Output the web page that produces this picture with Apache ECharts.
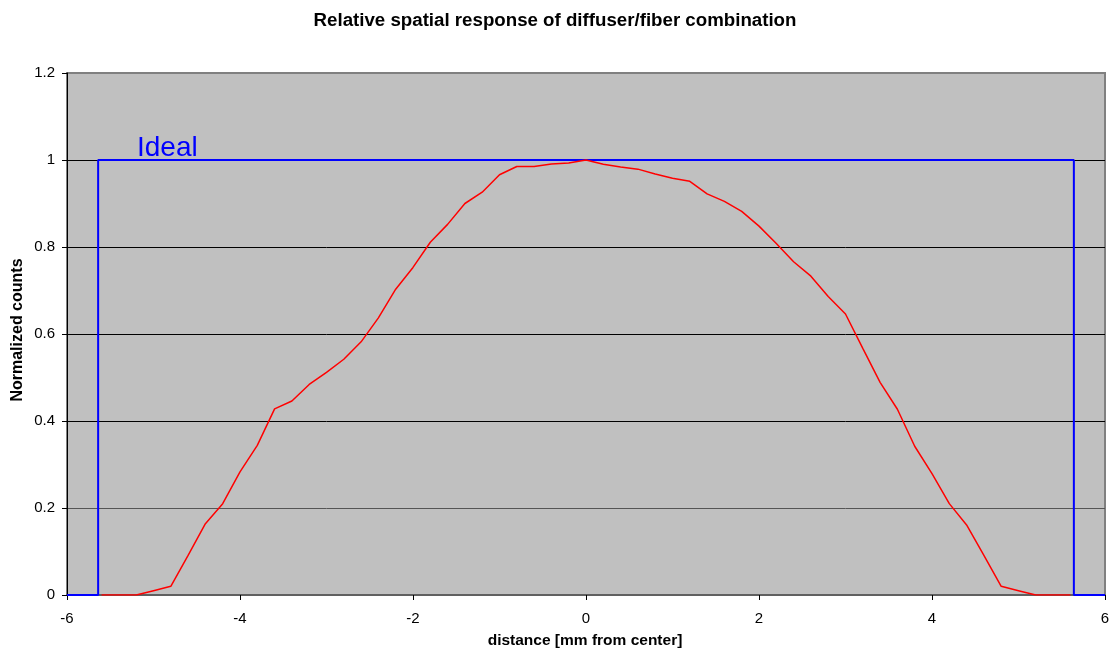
<!DOCTYPE html>
<html>
<head>
<meta charset="utf-8">
<script src="https://cdn.jsdelivr.net/npm/echarts@6/dist/echarts.min.js"></script>
<style>
html,body{margin:0;padding:0;background:#fff;}
#chart{width:1110px;height:654px;}
</style>
</head>
<body>
<div id="chart"></div>
<script>
var titleText = 'Relative spatial response of diffuser/fiber combination';
var xAxisName = 'distance [mm from center]';
var yAxisName = 'Normalized counts';
var idealLabel = 'Ideal';

var distance = [-5.6,-5.4,-5.2,-5.0,-4.8,-4.6,-4.4,-4.2,-4.0,-3.8,-3.6,-3.4,-3.2,-3.0,-2.8,-2.6,-2.4,-2.2,-2.0,-1.8,-1.6,-1.4,-1.2,-1.0,-0.8,-0.6,-0.4,-0.2,0,
  0.2,0.4,0.6,0.8,1.0,1.2,1.4,1.6,1.8,2.0,2.2,2.4,2.6,2.8,3.0,3.2,3.4,3.6,3.8,4.0,4.2,4.4,4.6,4.8,5.0,5.2,5.4,5.6];
var counts = [0,0,0,0.01,0.02,0.091,0.164,0.21,0.283,0.344,0.428,0.446,0.484,0.512,0.542,0.582,0.637,0.703,0.753,0.811,0.852,0.900,0.926,0.966,0.985,0.985,0.991,0.993,1.0,
  0.99,0.984,0.979,0.968,0.958,0.951,0.922,0.905,0.882,0.848,0.808,0.766,0.733,0.686,0.646,0.567,0.489,0.427,0.342,0.279,0.21,0.161,0.091,0.02,0.01,0,0,0];

var idealX = [-6,-5.64,-5.64,5.64,5.64,6];
var idealY = [0,0,1,1,0,0];

var measured = distance.map(function(d,i){return [d,counts[i]];});
var ideal = idealX.map(function(d,i){return [d,idealY[i]];});

var chart = echarts.init(document.getElementById('chart'));
var font = 'Arial, "Liberation Sans", sans-serif';
chart.setOption({
  animation:false,
  backgroundColor:'#fff',
  title:{text:titleText,left:'center',top:6,textStyle:{fontFamily:font,fontSize:18.7,fontWeight:'bold',color:'#000'}},
  grid:{left:67,right:5,top:73,bottom:59,show:true,backgroundColor:'#c0c0c0',borderColor:'#808080',borderWidth:2,outerBoundsMode:'none',containLabel:false},
  xAxis:{type:'value',min:-6,max:6,interval:2,
    axisLine:{show:true,onZero:false,lineStyle:{color:'#606060',width:2}},
    axisTick:{show:true,length:5,lineStyle:{color:'#000'}},
    axisLabel:{fontFamily:font,fontSize:15,color:'#000',margin:16},
    splitLine:{show:false}},
  yAxis:{type:'value',min:0,max:1.2,interval:0.2,
    axisLine:{show:true,onZero:false,lineStyle:{color:'#000',width:1}},
    axisTick:{show:true,length:5,lineStyle:{color:'#000'}},
    axisLabel:{fontFamily:font,fontSize:15,color:'#000',margin:12},
    splitLine:{show:true,showMinLine:false,showMaxLine:false,lineStyle:{color:['#555','#000','#000','#000','#000'],width:1}}},
  graphic:[
    {type:'text',x:585,y:641,style:{text:xAxisName,font:'bold 15.5px '+font,fill:'#000',align:'center',verticalAlign:'middle'}},
    {type:'text',x:18,y:330,rotation:Math.PI/2,style:{text:yAxisName,font:'bold 16px '+font,fill:'#000',align:'center',verticalAlign:'middle'}}
  ],
  series:[
    {type:'line',data:ideal,symbol:'none',lineStyle:{color:'#0000ff',width:2},z:3,
     markPoint:{symbol:'rect',symbolSize:0,silent:true,
       data:[{coord:[-4.84,1],label:{show:true,position:'top',distance:-2,formatter:idealLabel,color:'#0000ff',fontFamily:font,fontSize:28}}]}},
    {type:'line',data:measured,symbol:'none',lineStyle:{color:'#ff0000',width:1.5},z:4}
  ]
});
</script>
</body>
</html>
